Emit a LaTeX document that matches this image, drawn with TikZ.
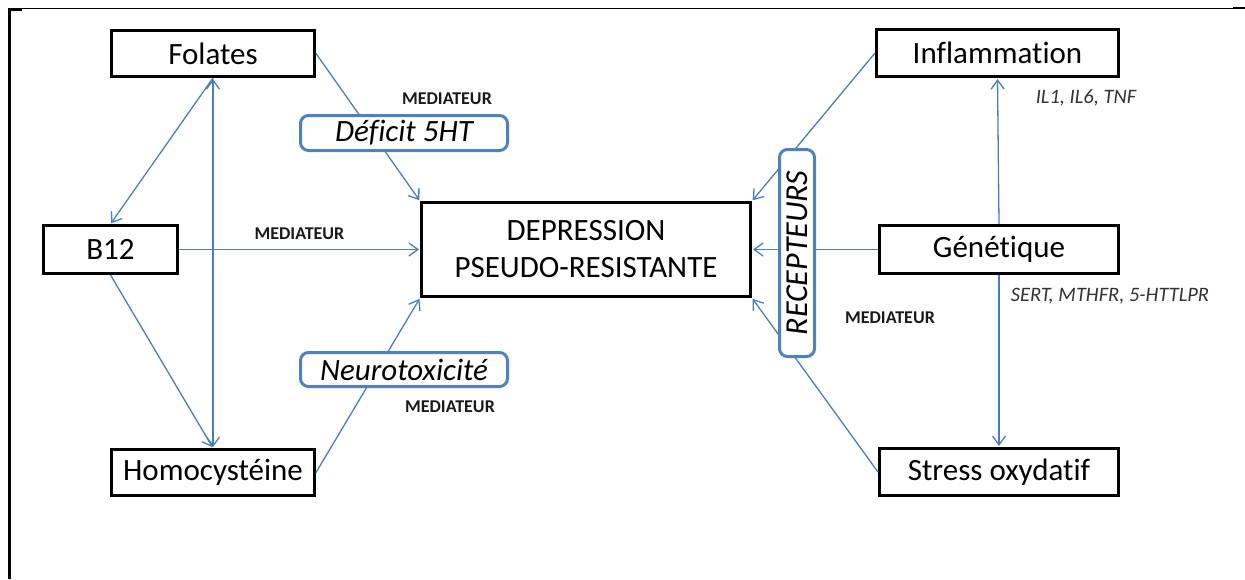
\documentclass[tikz,border=0pt]{standalone}
\usepackage{fontspec}
\setmainfont{Carlito}[Ligatures=NoCommon]
\usetikzlibrary{arrows.meta}
\definecolor{connc}{RGB}{74,126,187}
\definecolor{medb}{RGB}{79,129,189}
\definecolor{labc}{RGB}{50,50,50}
\begin{document}
\begin{tikzpicture}[x=1pt,y=-1pt,
  box/.style={draw=black,line width=3pt,fill=white,inner sep=0pt,font=\fontsize{31}{37}\selectfont},
  medbox/.style={draw=medb,line width=3pt,fill=white,rounded corners=8pt,inner sep=0pt,font=\fontsize{31}{36}\selectfont\itshape},
  conn/.style={draw=connc,line width=1.3pt,shorten >=1pt,-{Straight Barb[length=9pt,width=13pt]}},
  medlab/.style={font=\fontsize{18}{22}\selectfont\bfseries,text=black!90,inner sep=0pt},
  genlab/.style={font=\fontsize{20.5}{24}\selectfont\itshape,text=labc,inner sep=0pt,text depth=0pt},
  frame/.style={draw=black}]
\useasboundingbox (0,0) rectangle (1245,579);
% frame
\draw[frame,line width=1.2pt] (8,8.5) -- (1233,8.5);
\draw[frame,line width=2.3pt] (8,10.3) -- (22,10.3);
\draw[frame,line width=2.2pt] (1233,8.3) -- (1245,8.3);
\draw[frame,line width=2.3pt] (9.5,9) -- (9.5,579);
% main boxes
\node[box,minimum width=203pt,minimum height=46pt] (fol) at (213,53.5) {Folates};
\node[box,minimum width=134pt,minimum height=48pt] (b12) at (110.5,249.5) {B12};
\node[box,minimum width=203pt,minimum height=46pt] (hom) at (213,472.5) {Homocystéine};
\node[box,minimum width=329pt,minimum height=94pt,align=center] (dep) at (586,249.5) {DEPRESSION\\PSEUDO-RESISTANTE};
\node[box,minimum width=242pt,minimum height=47pt] (inf) at (997.5,53) {Inflammation};
\node[box,minimum width=239pt,minimum height=48pt] (gen) at (999,249.5) {Génétique};
\node[box,minimum width=239pt,minimum height=47pt] (str) at (999,472) {Stress oxydatif};
% connectors
\draw[conn] (fol.south) -- (b12.north);
\draw[conn,{Straight Barb[length=9pt,width=13pt]}-{Straight Barb[length=9pt,width=13pt]},shorten <=1pt] (fol.south) -- (hom.north);
\draw[conn] (b12.south) -- (hom.north);
\draw[conn] (b12.east) -- (dep.west);
\draw[conn] (fol.east) -- (dep.north west);
\draw[conn] (hom.east) -- (dep.south west);
\draw[conn] (inf.west) -- (dep.north east);
\draw[conn] (gen.west) -- (dep.east);
\draw[conn] (str.west) -- (dep.south east);
\draw[conn] (gen.north) -- (inf.south);
\draw[conn] (gen.south) -- (str.north);
% mediator boxes
\node[medbox,minimum width=207pt,minimum height=35pt] (def) at (404,133) {Déficit 5HT};
\node[medbox,minimum width=207pt,minimum height=34pt] (neu) at (404,369.5) {Neurotoxicité};
\node[medbox,rotate=90,minimum width=207pt,minimum height=35pt,font=\fontsize{32}{36}\selectfont\itshape] (rec) at (797,253) {RECEPTEURS};
% labels
\node[medlab] (m1) at (447,98.5) {MEDIATEUR};
\node[medlab] (m2) at (299.5,233.5) {MEDIATEUR};
\node[medlab] (m3) at (450,406.7) {MEDIATEUR};
\node[medlab] (m4) at (890,318) {MEDIATEUR};
\node[genlab] (il) at (1086,97) {IL1, IL6, TNF};
\node[genlab] (sert) at (1110,294.5) {SERT, MTHFR, 5-HTTLPR};
\end{tikzpicture}
\end{document}
